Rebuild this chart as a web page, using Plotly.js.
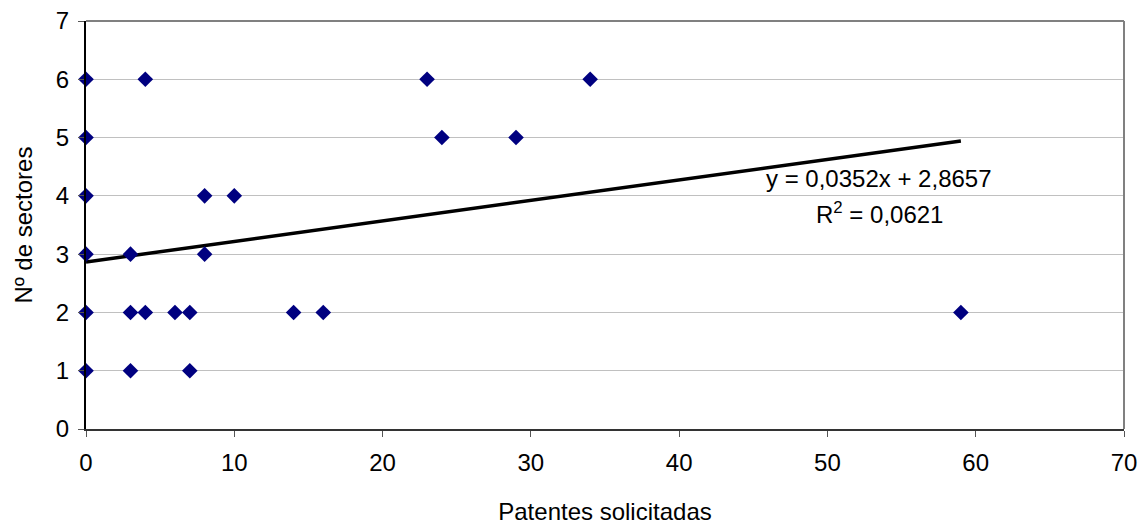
<!DOCTYPE html>
<html>
<head>
<meta charset="utf-8">
<script src="https://cdn.plot.ly/plotly-3.0.1.min.js"></script>
<style>html,body{margin:0;padding:0;background:#fff;}#chart{width:1142px;height:525px;}</style>
</head>
<body>
<div id="chart"></div>
<script>
const patentes = [0,0,0,0,0,0, 3,3,3, 4,4, 6, 7,7, 8,8, 10, 14, 16, 23, 24, 29, 34, 59];
const sectores = [1,2,3,4,5,6, 1,2,3, 2,6, 2, 1,2, 3,4, 4, 2, 2, 6, 5, 5, 6, 2];
const slope = 0.0352;
const intercept = 2.8657;
const r2 = 0.0621;
const xTickVals = [0,10,20,30,40,50,60,70];
const yTickVals = [0,1,2,3,4,5,6,7];

const fmt = (v, d) => v.toFixed(d).replace('.', ',');
const xmin = Math.min(...patentes), xmax = Math.max(...patentes);
const trendX = [xmin, xmax];
const trendY = trendX.map(x => slope * x + intercept);

const fam = 'Liberation Sans, Arial, sans-serif';
const f = (s) => ({family: fam, size: s, color: '#000'});

Plotly.newPlot('chart', [
  {x: trendX, y: trendY, mode: 'lines', line: {color: '#000', width: 3.5}, hoverinfo: 'skip', showlegend: false},
  {x: patentes, y: sectores, mode: 'markers', type: 'scatter',
   marker: {symbol: 'diamond', size: 12, color: '#000080', line: {width: 0}}, showlegend: false, cliponaxis: false}
], {
  width: 1142, height: 525,
  margin: {l: 86, r: 18, t: 21, b: 96},
  paper_bgcolor: '#fff', plot_bgcolor: '#fff',
  font: f(24),
  xaxis: {
    range: [0, 70], tickvals: xTickVals, ticktext: xTickVals.map(String),
    showgrid: false, zeroline: false,
    showline: true, linecolor: '#333', linewidth: 2,
    ticks: 'outside', ticklen: 6, tickwidth: 1, tickcolor: '#555',
    ticklabelstandoff: 5,
    tickfont: f(24),
    title: {text: 'Patentes solicitadas', font: f(24), standoff: 30}
  },
  yaxis: {
    range: [0, 7], tickvals: yTickVals, ticktext: yTickVals.map(String),
    showgrid: true, gridcolor: '#c0c0c0', gridwidth: 1, zeroline: false,
    showline: true, linecolor: '#000', linewidth: 2,
    ticks: 'outside', ticklen: 6, tickwidth: 1, tickcolor: '#555',
    ticklabelstandoff: 4,
    tickfont: f(24),
    title: {text: 'Nº de sectores', font: f(24), standoff: 16}
  },
  shapes: [
    {type: 'line', xref: 'paper', yref: 'paper', x0: 0, x1: 1, y0: 1, y1: 1, line: {color: '#808080', width: 2}},
    {type: 'line', xref: 'paper', yref: 'paper', x0: 1, x1: 1, y0: 0, y1: 1, line: {color: '#808080', width: 2}}
  ],
  annotations: [
    {x: 53.5, y: 4.30, xref: 'x', yref: 'y', text: 'y = ' + fmt(slope, 4) + 'x + ' + fmt(intercept, 4),
     showarrow: false, xanchor: 'center', yanchor: 'middle', font: f(24)},
    {x: 53.5, y: 3.70, xref: 'x', yref: 'y', text: 'R<sup>2</sup> = ' + fmt(r2, 4),
     showarrow: false, xanchor: 'center', yanchor: 'middle', font: f(24)}
  ]
}, {displayModeBar: false, staticPlot: true});
</script>
</body>
</html>
